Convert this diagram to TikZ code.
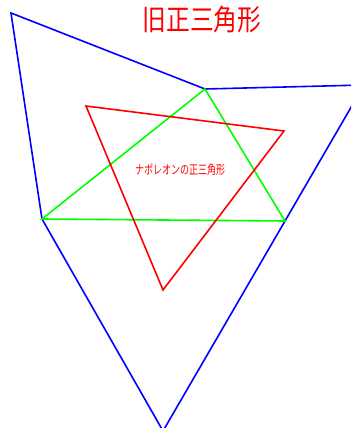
\documentclass[tikz,border=0pt]{standalone}
\usepackage{fontspec}
\newfontfamily\cjk{Noto Sans CJK JP}
\begin{document}
\begin{tikzpicture}[x=1pt,y=-1pt,
  edge/.style={line width=1.6pt,line join=miter},
  lbl/.style={text=red,inner sep=0pt}]
\useasboundingbox (0,0) rectangle (351,428);
\clip (0,0) rectangle (351,428);
% blue outer shape
\coordinate (b1) at (11,13);
\coordinate (b2) at (205,89);
\coordinate (b3) at (364,85);
\coordinate (b4) at (285,221);
\coordinate (b5) at (163,431);
\coordinate (b6) at (42,219);
\draw[edge,blue] (b1) -- (b2) -- (b3) -- (b4) -- (b5) -- (b6) -- cycle;
% green triangle
\draw[edge,green] (b2) -- (b6) -- (b4) -- cycle;
% red triangle
\coordinate (r1) at (86,106);
\coordinate (r2) at (284,131);
\coordinate (r3) at (163,290);
\draw[edge,red] (r1) -- (r2) -- (r3) -- cycle;
% labels
\node[lbl,xscale=0.82,font=\cjk\fontsize{29}{29}\selectfont] (t1) at (202,20) {旧正三角形};
\node[lbl,xscale=0.72,font=\cjk\fontsize{12.5}{12.5}\selectfont] (t2) at (180,170) {ナポレオンの正三角形};
\end{tikzpicture}
\end{document}
